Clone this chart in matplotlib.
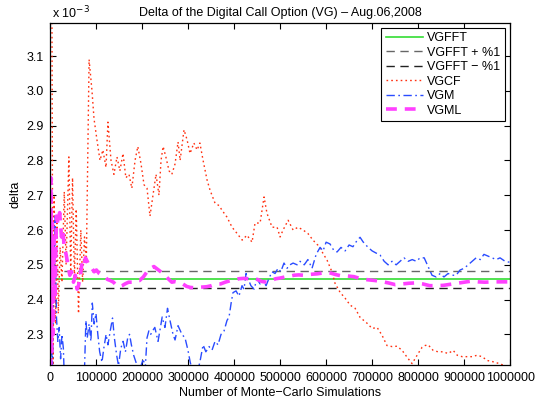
import matplotlib
matplotlib.use("Agg")
import matplotlib.pyplot as plt
import numpy as np

plt.rcParams["font.family"] = ["Liberation Sans", "DejaVu Sans"]

# Number of simulations in thousands, delta values in units of 1e-3
vgfft_delta = 2.4585

vgcf_n = [0.5, 3, 5.5, 8, 11, 14, 17, 21, 25, 30, 34, 40, 44, 48, 52, 56, 61, 66, 70, 74, 78, 84,
          90.3, 94.7, 101, 107.7, 114, 120.8, 125, 131.7, 138, 144.7, 151, 157.8, 164, 170.8, 177,
          184, 190, 197, 203.5, 210, 216.5, 223, 229.6, 236, 240.5, 245, 251, 258, 264, 271, 277.5,
          282, 290.5, 297, 303.6, 312, 319, 325, 332, 340.6, 347, 358, 367, 373, 384, 395, 406, 417,
          427.5, 438.5, 445, 456, 464.6, 471, 482, 493, 499.5, 506, 517, 527.8, 538.6, 549.5, 560,
          571, 582, 591, 601.8, 612.6, 619, 630, 641, 652, 662.7, 673.5, 688.8, 699.7, 710.6, 721.5,
          732, 743, 754, 765, 776, 786.7, 793, 799.8, 808.5, 815, 821.6, 832.5, 843, 854, 865, 876,
          885, 895.6, 906.5, 917, 928, 939, 950, 961, 971.7, 1000]
vgcf_delta = [3.60, 3.30, 2.15, 2.70, 2.33, 2.62, 2.36, 2.55, 2.45, 2.71, 2.50, 2.81, 2.48, 2.75,
              2.46, 2.66, 2.36, 2.60, 2.45, 2.58, 2.51, 3.09,
              3.00, 2.92, 2.86, 2.80, 2.83, 2.78, 2.91, 2.80, 2.76, 2.81, 2.77, 2.82, 2.75, 2.76,
              2.72, 2.80, 2.84, 2.79, 2.73, 2.72, 2.64, 2.70, 2.76, 2.70, 2.80, 2.84, 2.81, 2.77,
              2.76, 2.79, 2.853, 2.80, 2.888, 2.86, 2.82, 2.85, 2.83, 2.85, 2.80, 2.744, 2.715,
              2.677, 2.67, 2.657, 2.637, 2.608, 2.59, 2.571, 2.585, 2.565, 2.62, 2.62, 2.695,
              2.648, 2.608, 2.608, 2.58, 2.60, 2.628, 2.60, 2.608, 2.60, 2.59, 2.571, 2.556,
              2.537, 2.513, 2.479, 2.447, 2.421, 2.404, 2.384, 2.375, 2.349, 2.332, 2.317, 2.32,
              2.297, 2.268, 2.265, 2.266, 2.254, 2.234, 2.216, 2.23, 2.245, 2.263, 2.268, 2.27,
              2.254, 2.25, 2.25, 2.245, 2.254, 2.24, 2.236, 2.236, 2.236, 2.24, 2.236, 2.225,
              2.222, 2.218, 2.205]

vgm_n = [0.5, 2, 4, 7, 10, 13, 16, 19, 22, 25, 28, 31, 50, 73, 77, 80, 84, 88, 91, 95, 99, 103,
         107, 112, 116, 121, 125, 130, 135, 139, 144, 148, 153, 158, 163, 168, 172, 176, 181, 186,
         191, 197, 202, 206, 210, 214, 218, 222, 227, 234, 243, 249, 254.6, 260, 266.6, 271, 277.5,
         286, 292.7, 299, 304, 310, 319, 325, 332, 338, 345, 351.5, 358, 364.5, 371, 377.6, 384,
         388.5, 393, 397, 403.7, 410, 416.7, 421, 425.5, 429.8, 436, 443, 449, 456, 462, 469, 475,
         482, 488.6, 495, 501, 508, 514.7, 521, 527.8, 536.5, 543, 552, 560, 569, 578, 586.5, 593,
         599.6, 608, 617, 623.5, 632, 641, 649.6, 658, 667, 673.5, 680, 691, 699.7, 708, 717, 726,
         734.5, 743, 752, 760.6, 769, 778, 787, 796, 804, 813, 821.6, 830, 839, 847.7, 856, 865,
         874, 882.5, 891, 900, 908.6, 917, 926, 935, 943, 952, 961, 969.6, 978, 989, 1000]
vgm_delta = [2.05, 2.30, 2.18, 2.45, 2.64, 2.35, 2.28, 2.32, 2.23, 2.30, 2.26, 2.14, 2.10, 2.15,
             2.34, 2.29, 2.33, 2.28, 2.39, 2.33, 2.36, 2.30, 2.25, 2.22, 2.26, 2.30, 2.27, 2.31,
             2.347, 2.29, 2.24, 2.21, 2.26, 2.28, 2.25, 2.29, 2.30, 2.27, 2.24, 2.22, 2.20, 2.21,
             2.23, 2.20, 2.29, 2.31, 2.30, 2.31, 2.32, 2.28, 2.35, 2.32, 2.375, 2.34, 2.30, 2.284,
             2.325, 2.30, 2.29, 2.255, 2.22, 2.19, 2.19, 2.22, 2.27, 2.25, 2.265, 2.255, 2.28,
             2.27, 2.30, 2.31, 2.34, 2.35, 2.39, 2.42, 2.425, 2.41, 2.44, 2.43, 2.475, 2.46, 2.44,
             2.43, 2.46, 2.445, 2.455, 2.44, 2.46, 2.48, 2.475, 2.49, 2.48, 2.505, 2.49, 2.50,
             2.505, 2.50, 2.51, 2.50, 2.515, 2.49, 2.53, 2.55, 2.54, 2.565, 2.56, 2.54, 2.537,
             2.55, 2.54, 2.557, 2.552, 2.57, 2.579, 2.566, 2.55, 2.54, 2.534, 2.528, 2.51, 2.50,
             2.51, 2.50, 2.51, 2.52, 2.51, 2.515, 2.51, 2.52, 2.52, 2.495, 2.47, 2.465, 2.475,
             2.465, 2.475, 2.47, 2.47, 2.485, 2.49, 2.50, 2.51, 2.52, 2.515, 2.53, 2.525, 2.52,
             2.515, 2.52, 2.51, 2.507]

vgml_n = [0.5, 1.2, 2.5, 4, 6, 8, 10, 13, 16, 20, 24, 27, 30, 34, 38, 42, 46, 50, 54, 58, 61, 65,
          68, 72, 76, 80, 85, 90, 95, 100, 106, 112, 118, 124, 130, 137, 144, 150, 156, 162, 170,
          178, 186, 194, 202, 210, 218, 225, 232, 240, 248, 256, 264, 272, 280, 288, 296, 304, 312,
          320, 330, 340, 350, 360, 370, 380, 390, 400, 410, 420, 430, 440, 450, 460, 470, 480, 490,
          500, 510, 520, 530, 540, 550, 560, 570, 580, 590, 600, 610, 620, 630, 645, 660, 675, 690,
          705, 720, 735, 750, 765, 780, 795, 810, 825, 840, 855, 870, 885, 900, 915, 930, 945, 960,
          975, 1000]
vgml_delta = [2.20, 2.75, 2.25, 2.62, 2.30, 2.58, 2.40, 2.64, 2.62, 2.65, 2.58, 2.60, 2.55, 2.53,
              2.50, 2.47, 2.48, 2.45, 2.47, 2.43, 2.44, 2.47, 2.50, 2.49, 2.52, 2.51, 2.495, 2.49,
              2.48, 2.485, 2.475, 2.47, 2.465, 2.458, 2.455, 2.45, 2.44, 2.437, 2.44, 2.445, 2.45,
              2.45, 2.455, 2.455, 2.465, 2.48, 2.49, 2.495, 2.488, 2.48, 2.472, 2.46, 2.45, 2.452,
              2.45, 2.445, 2.438, 2.435, 2.434, 2.435, 2.436, 2.437, 2.44, 2.445, 2.445, 2.45,
              2.454, 2.456, 2.46, 2.461, 2.46, 2.46, 2.458, 2.452, 2.45, 2.455, 2.46, 2.462,
              2.465, 2.467, 2.47, 2.471, 2.47, 2.472, 2.473, 2.474, 2.476, 2.478, 2.476, 2.472,
              2.469, 2.468, 2.466, 2.46, 2.457, 2.455, 2.452, 2.448, 2.443, 2.445, 2.447, 2.448,
              2.445, 2.44, 2.44, 2.441, 2.444, 2.447, 2.45, 2.453, 2.451, 2.45, 2.451, 2.451,
              2.451]

x_ticks = np.arange(0, 1000001, 100000)
y_ticks = np.arange(2.3, 3.15, 0.1)

fig = plt.figure(figsize=(5.37, 4.04), dpi=100)
ax = fig.add_axes([0.094, 0.0965, 0.856, 0.8475])

n_all = np.array([0, 1000])
ax.plot(n_all * 1000, [vgfft_delta * 1e-3] * 2, color="#33dd33", lw=1.2, label="VGFFT")
ax.plot(n_all * 1000, [vgfft_delta * 1.01e-3] * 2, color="#666666", lw=1.0,
        dashes=(6, 4), label="VGFFT + %1")
ax.plot(n_all * 1000, [vgfft_delta * 0.99e-3] * 2, color="#222222", lw=1.0,
        dashes=(6, 4), label="VGFFT \u2212 %1")
ax.plot(np.array(vgcf_n) * 1000, np.array(vgcf_delta) * 1e-3, color="#ff3010", lw=1.0,
        dashes=(1.2, 2.2), label="VGCF")
ax.plot(np.array(vgm_n) * 1000, np.array(vgm_delta) * 1e-3, color="#2a4cff", lw=1.0,
        dashes=(6, 2.5, 1.2, 2.5), label="VGM")
ax.plot(np.array(vgml_n) * 1000, np.array(vgml_delta) * 1e-3, color="#ff40ff", lw=2.6,
        dashes=(3, 2.2), label="VGML")

ax.set_xlim(0, 1000000)
ax.set_ylim(2.212e-3, 3.196e-3)
ax.set_xticks(x_ticks)
ax.set_xticklabels([str(t) for t in x_ticks])
ax.set_yticks(y_ticks * 1e-3)
ax.set_yticklabels([f"{t:.1f}" for t in y_ticks])
ax.tick_params(direction="in", length=4, width=0.8, top=True, right=True,
               labelsize=9, pad=5)
for side in ax.spines.values():
    side.set_linewidth(0.9)

fig.text(0.096, 0.967, "x 10$^{-3}$", fontsize=9, ha="left", va="center")
ax.set_title("Delta of the Digital Call Option (VG) \u2013 Aug.06,2008", fontsize=9, pad=5)
ax.set_xlabel("Number of Monte\u2212Carlo Simulations", fontsize=9, labelpad=2)
ax.set_ylabel("delta", fontsize=9, labelpad=3)

leg = ax.legend(loc="upper right", bbox_to_anchor=(0.988, 0.985), borderaxespad=0,
                fontsize=9, fancybox=False, framealpha=1, edgecolor="black",
                handlelength=3.0, labelspacing=0.2, borderpad=0.35, handletextpad=0.3)
leg.get_frame().set_linewidth(0.8)

fig.savefig("out.png", dpi=100)
